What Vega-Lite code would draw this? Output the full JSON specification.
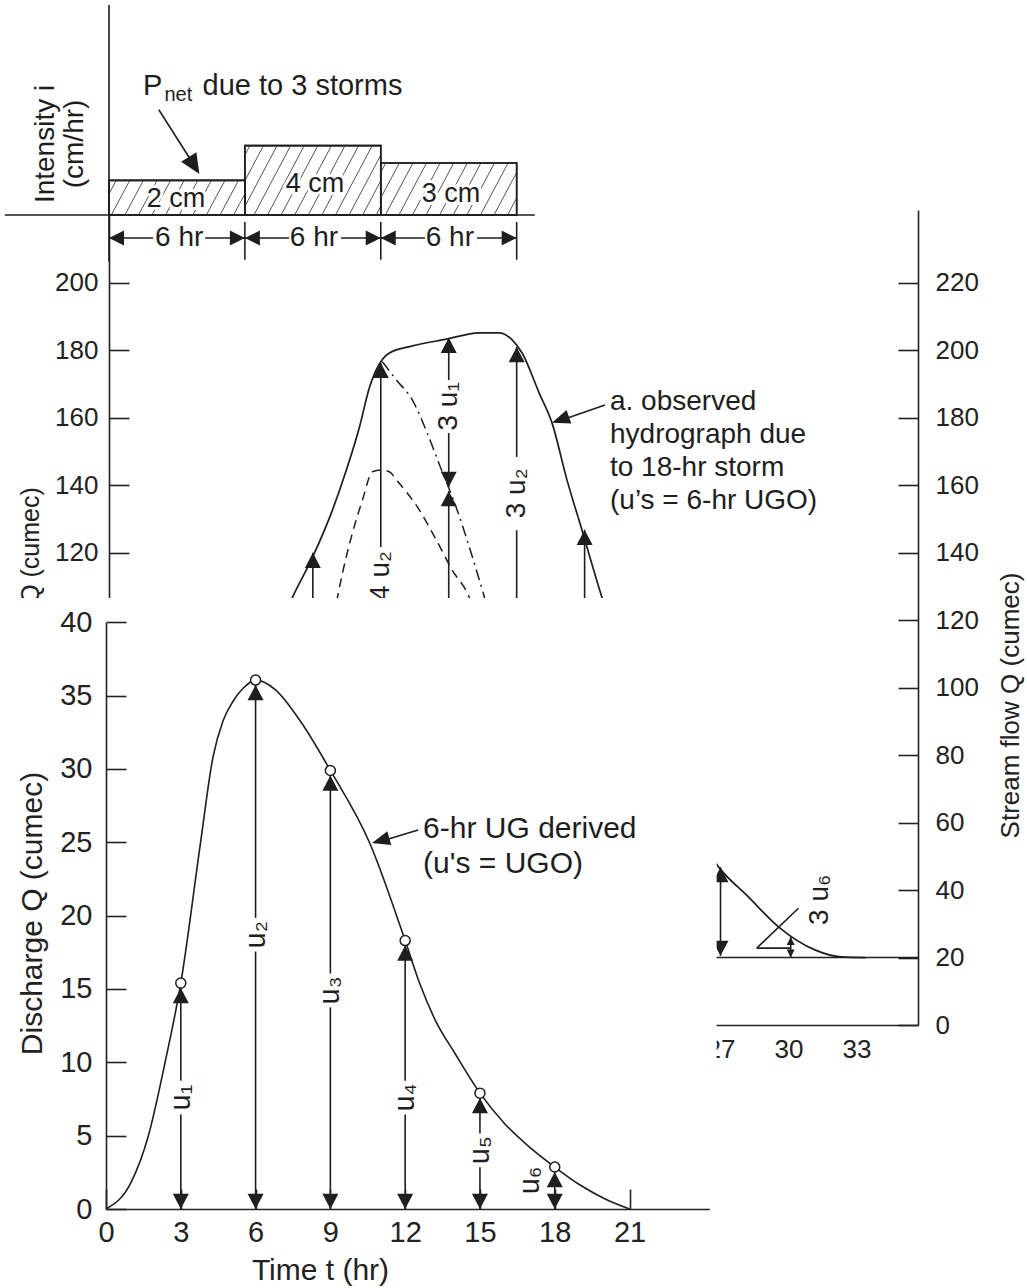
{
  "$schema": "https://vega.github.io/schema/vega-lite/v6.json",
  "width": 1027,
  "height": 1288,
  "autosize": {"type": "none"},
  "padding": 0,
  "background": "white",
  "config": {
    "view": {"stroke": null},
    "axis": {"grid": false, "labelFont": "Liberation Sans", "titleFont": "Liberation Sans", "labelColor": "#222222", "titleColor": "#222222", "domainColor": "#222222", "tickColor": "#222222", "domainWidth": 1.6, "tickWidth": 1.6, "titleFontWeight": "normal", "labelFlush": false, "labelOverlap": false},
    "text": {"font": "Liberation Sans", "color": "#1e1e1e"}
  },
  "datasets": {
    "hyBars": [{"t": 0, "t2": 6, "q": 0, "q2": 0.333}, {"t": 6, "t2": 12, "q": 0, "q2": 0.667}, {"t": 12, "t2": 18, "q": 0, "q2": 0.5}],
    "hyHatch": [
      {"t": 0, "q": 0.203, "t2": 0.32, "q2": 0.333}, {"t": 0.1, "q": 0, "t2": 0.92, "q2": 0.333}, {"t": 0.7, "q": 0, "t2": 1.52, "q2": 0.333}, {"t": 1.3, "q": 0, "t2": 2.12, "q2": 0.333}, {"t": 1.9, "q": 0, "t2": 2.72, "q2": 0.333}, {"t": 2.5, "q": 0, "t2": 3.32, "q2": 0.333}, {"t": 3.1, "q": 0, "t2": 3.92, "q2": 0.333}, {"t": 3.7, "q": 0, "t2": 4.52, "q2": 0.333}, {"t": 4.3, "q": 0, "t2": 5.12, "q2": 0.333}, {"t": 4.9, "q": 0, "t2": 5.72, "q2": 0.333}, {"t": 5.5, "q": 0, "t2": 6, "q2": 0.203},
      {"t": 6, "q": 0.576, "t2": 6.22, "q2": 0.667}, {"t": 6, "q": 0.329, "t2": 6.82, "q2": 0.667}, {"t": 6, "q": 0.082, "t2": 7.42, "q2": 0.667}, {"t": 6.4, "q": 0, "t2": 8.02, "q2": 0.667}, {"t": 7.0, "q": 0, "t2": 8.62, "q2": 0.667}, {"t": 7.6, "q": 0, "t2": 9.22, "q2": 0.667}, {"t": 8.2, "q": 0, "t2": 9.82, "q2": 0.667}, {"t": 8.8, "q": 0, "t2": 10.42, "q2": 0.667}, {"t": 9.4, "q": 0, "t2": 11.02, "q2": 0.667}, {"t": 10.0, "q": 0, "t2": 11.62, "q2": 0.667}, {"t": 10.6, "q": 0, "t2": 12, "q2": 0.576}, {"t": 11.2, "q": 0, "t2": 12, "q2": 0.329}, {"t": 11.8, "q": 0, "t2": 12, "q2": 0.082},
      {"t": 12, "q": 0.41, "t2": 12.22, "q2": 0.5}, {"t": 12, "q": 0.164, "t2": 12.82, "q2": 0.5}, {"t": 12.2, "q": 0, "t2": 13.42, "q2": 0.5}, {"t": 12.8, "q": 0, "t2": 14.02, "q2": 0.5}, {"t": 13.4, "q": 0, "t2": 14.62, "q2": 0.5}, {"t": 14.0, "q": 0, "t2": 15.22, "q2": 0.5}, {"t": 14.6, "q": 0, "t2": 15.82, "q2": 0.5}, {"t": 15.2, "q": 0, "t2": 16.42, "q2": 0.5}, {"t": 15.8, "q": 0, "t2": 17.02, "q2": 0.5}, {"t": 16.4, "q": 0, "t2": 17.62, "q2": 0.5}, {"t": 17.0, "q": 0, "t2": 18, "q2": 0.41}, {"t": 17.6, "q": 0, "t2": 18, "q2": 0.164}
    ],
    "hyLines": [
      {"t": 0, "t2": 0, "q": 2.02, "q2": -0.45},
      {"t": -4.6, "t2": 18.8, "q": 0, "q2": 0},
      {"t": 6, "t2": 6, "q": -0.067, "q2": -0.43},
      {"t": 12, "t2": 12, "q": -0.067, "q2": -0.43},
      {"t": 18, "t2": 18, "q": -0.067, "q2": -0.43},
      {"t": 0, "t2": 1.95, "q": -0.221, "q2": -0.221},
      {"t": 4.25, "t2": 6, "q": -0.221, "q2": -0.221},
      {"t": 6, "t2": 7.95, "q": -0.221, "q2": -0.221},
      {"t": 10.25, "t2": 12, "q": -0.221, "q2": -0.221},
      {"t": 12, "t2": 13.95, "q": -0.221, "q2": -0.221},
      {"t": 16.25, "t2": 18, "q": -0.221, "q2": -0.221},
      {"t": 2.2, "t2": 3.9, "q": 1.012, "q2": 0.43}
    ],
    "hyArrL": [{"t": 0, "q": -0.221}, {"t": 6, "q": -0.221}, {"t": 12, "q": -0.221}],
    "hyArrR": [{"t": 6, "q": -0.221}, {"t": 12, "q": -0.221}, {"t": 18, "q": -0.221}],
    "hyLabels": [{"t": 2.96, "q": 0.154, "label": "2 cm"}, {"t": 9.1, "q": 0.298, "label": "4 cm"}, {"t": 15.1, "q": 0.2, "label": "3 cm"}],
    "hyDims": [{"t": 3.1, "q": -0.221, "label": "6 hr"}, {"t": 9.05, "q": -0.221, "label": "6 hr"}, {"t": 15.05, "q": -0.221, "label": "6 hr"}],
    "hyTitle": [{"t": -2.8, "q": 0.683, "label": "Intensity i"}, {"t": -1.5, "q": 0.683, "label": "(cm/hr)"}],
    "hyP": [{"t": 1.5, "q": 1.158, "label": "P"}, {"t": 4.13, "q": 1.158, "label": "due to 3 storms"}],
    "hyNet": [{"t": 2.45, "q": 1.096, "label": "net"}],
    "hyPArrow": [{"t": 3.99, "q": 0.394}],
    "midBase": [{"t": 0, "t2": 35.72, "q": 20, "q2": 20}],
    "midObs": [
      {"t": 6, "q": 98}, {"t": 7, "q": 112}, {"t": 7.6, "q": 119}, {"t": 8.11, "q": 126.9}, {"t": 8.99, "q": 138.7}, {"t": 9.87, "q": 152.7}, {"t": 10.48, "q": 164.5}, {"t": 11.06, "q": 177.3}, {"t": 11.5, "q": 189}, {"t": 11.9, "q": 195.5}, {"t": 12.38, "q": 199.2}, {"t": 13.39, "q": 201.3}, {"t": 14.89, "q": 203.3}, {"t": 16.34, "q": 205.2}, {"t": 17.22, "q": 205.2}, {"t": 17.8, "q": 203.1}, {"t": 18.24, "q": 199.2}, {"t": 18.99, "q": 187.4}, {"t": 19.56, "q": 178.5}, {"t": 20.22, "q": 161.6}, {"t": 20.88, "q": 146.8}, {"t": 21.76, "q": 126.9}, {"t": 22.5, "q": 112}, {"t": 23, "q": 103}, {"t": 24, "q": 84}, {"t": 25, "q": 68}, {"t": 26, "q": 56}, {"t": 26.92, "q": 46.8}, {"t": 28.24, "q": 37.9}, {"t": 29.56, "q": 29.1}, {"t": 31.19, "q": 22.2}, {"t": 32.33, "q": 20.2}, {"t": 33.4, "q": 20}
    ],
    "midDashdot": [{"t": 12.07, "q": 196.6}, {"t": 12.69, "q": 191.2}, {"t": 13.39, "q": 185.3}, {"t": 14.05, "q": 175.5}, {"t": 14.63, "q": 165.4}, {"t": 15.37, "q": 152.7}, {"t": 15.81, "q": 143.8}, {"t": 16.52, "q": 128.1}, {"t": 17.2, "q": 112}, {"t": 18, "q": 95}],
    "midDashed": [{"t": 9.5, "q": 108}, {"t": 10.09, "q": 126.9}, {"t": 10.31, "q": 134}, {"t": 10.75, "q": 145.9}, {"t": 11.19, "q": 155.6}, {"t": 11.63, "q": 164}, {"t": 12.03, "q": 164.5}, {"t": 12.38, "q": 164}, {"t": 12.69, "q": 161.6}, {"t": 13.7, "q": 152.7}, {"t": 14.45, "q": 143.8}, {"t": 15.15, "q": 134.9}, {"t": 15.9, "q": 126.9}, {"t": 16.6, "q": 112}],
    "midSegs": [
      {"t": 9, "t2": 9, "q": 60, "q2": 140},
      {"t": 12, "t2": 12, "q": 141.7, "q2": 196.3},
      {"t": 12, "t2": 12, "q": 60, "q2": 124.5},
      {"t": 15, "t2": 15, "q": 191.2, "q2": 203.7},
      {"t": 15, "t2": 15, "q": 159.5, "q2": 175.5},
      {"t": 15, "t2": 15, "q": 60, "q2": 158.3},
      {"t": 18, "t2": 18, "q": 168.4, "q2": 201},
      {"t": 18, "t2": 18, "q": 60, "q2": 146.7},
      {"t": 21, "t2": 21, "q": 60, "q2": 146.8},
      {"t": 27, "t2": 27, "q": 20.5, "q2": 46.8},
      {"t": 30.1, "t2": 30.1, "q": 20, "q2": 26.1},
      {"t": 28.6, "t2": 30.44, "q": 22.8, "q2": 34.6},
      {"t": 28.6, "t2": 30.1, "q": 22.8, "q2": 22.8},
      {"t": 21.9, "t2": 19.8, "q": 183.8, "q2": 178.9}
    ],
    "midUp": [{"t": 9, "q": 140}, {"t": 12, "q": 196.3}, {"t": 15, "q": 203.7}, {"t": 15, "q": 158.3}, {"t": 18, "q": 201}, {"t": 21, "q": 146.8}, {"t": 27, "q": 46.8}],
    "midDown": [{"t": 15, "q": 159.5}, {"t": 27, "q": 20.5}],
    "midSmallUp": [{"t": 30.1, "q": 26.1}],
    "midSmallDown": [{"t": 30.1, "q": 20}],
    "midAnnArrow": [{"t": 19.56, "q": 178.5}],
    "midLabels": [{"t": 12, "q": 133.1, "label": "4 u₂"}, {"t": 15, "q": 183.4, "label": "3 u₁"}, {"t": 18, "q": 157.6, "label": "3 u₂"}, {"t": 31.4, "q": 37.1, "label": "3 u₆"}],
    "midAnn": [{"t": 22.12, "q": 182.3, "label": ["a. observed", "hydrograph due", "to 18-hr storm", "(u’s = 6-hr UGO)"]}],
    "midCover": [{"t": -5, "t2": 26.83, "q": 126.6, "q2": -80}],
    "botCurve": [{"t": 0, "q": 0}, {"t": 1, "q": 1.8}, {"t": 1.7, "q": 5}, {"t": 2.37, "q": 10}, {"t": 3, "q": 15.4}, {"t": 3.77, "q": 24.7}, {"t": 4.29, "q": 30.8}, {"t": 4.7, "q": 33.3}, {"t": 5.09, "q": 34.6}, {"t": 5.5, "q": 35.5}, {"t": 6, "q": 36.06}, {"t": 6.8, "q": 35.4}, {"t": 7.78, "q": 33.3}, {"t": 9, "q": 29.9}, {"t": 10.59, "q": 24.9}, {"t": 12, "q": 18.3}, {"t": 12.6, "q": 15.3}, {"t": 13.2, "q": 12.9}, {"t": 14, "q": 10.6}, {"t": 15, "q": 7.9}, {"t": 16, "q": 5.8}, {"t": 17, "q": 4.2}, {"t": 18, "q": 2.86}, {"t": 19, "q": 1.65}, {"t": 20, "q": 0.7}, {"t": 21, "q": 0}],
    "botCircles": [{"t": 3, "q": 15.4}, {"t": 6, "q": 36.06}, {"t": 9, "q": 29.9}, {"t": 12, "q": 18.3}, {"t": 15, "q": 7.9}, {"t": 18, "q": 2.86}],
    "botSegs": [
      {"t": 3, "t2": 3, "q": 0, "q2": 6.45}, {"t": 3, "t2": 3, "q": 8.75, "q2": 15.06},
      {"t": 6, "t2": 6, "q": 0, "q2": 17.55}, {"t": 6, "t2": 6, "q": 19.85, "q2": 35.72},
      {"t": 9, "t2": 9, "q": 0, "q2": 13.75}, {"t": 9, "t2": 9, "q": 16.05, "q2": 29.56},
      {"t": 12, "t2": 12, "q": 0, "q2": 6.45}, {"t": 12, "t2": 12, "q": 8.75, "q2": 17.96},
      {"t": 15, "t2": 15, "q": 0, "q2": 2.85}, {"t": 15, "t2": 15, "q": 5.15, "q2": 7.56},
      {"t": 18, "t2": 18, "q": 0, "q2": 2.52},
      {"t": 12.52, "t2": 10.9, "q": 25.84, "q2": 25.0}
    ],
    "botUp": [{"t": 3, "q": 15.06}, {"t": 6, "q": 35.72}, {"t": 9, "q": 29.56}, {"t": 12, "q": 17.96}, {"t": 15, "q": 7.56}, {"t": 18, "q": 2.52}],
    "botDown": [{"t": 3, "q": 0}, {"t": 6, "q": 0}, {"t": 9, "q": 0}, {"t": 12, "q": 0}, {"t": 15, "q": 0}, {"t": 18, "q": 0}],
    "botLabels": [{"t": 3, "q": 7.6, "label": "u₁"}, {"t": 6, "q": 18.7, "label": "u₂"}, {"t": 9, "q": 14.9, "label": "u₃"}, {"t": 12, "q": 7.6, "label": "u₄"}, {"t": 15, "q": 4.0, "label": "u₅"}, {"t": 17.0, "q": 1.95, "label": "u₆"}],
    "botAnn": [{"t": 12.72, "q": 25.3, "label": ["6-hr UG derived", "(u's = UGO)"]}],
    "botAnnArrow": [{"t": 10.67, "q": 24.95}]
  },
  "layer": [
    {
      "encoding": {
        "x": {"field": "t", "type": "quantitative", "scale": {"domain": [0, 35.72], "range": [109, 918], "nice": false, "zero": false}, "axis": null},
        "y": {"field": "q", "type": "quantitative", "scale": {"domain": [0, 2], "range": [215, 7], "nice": false, "zero": false}, "axis": null}
      },
      "layer": [
        {"data": {"name": "hyBars"}, "mark": {"type": "rect", "fill": "white", "stroke": "#1e1e1e", "strokeWidth": 1.6}, "encoding": {"x2": {"field": "t2"}, "y2": {"field": "q2"}}},
        {"data": {"name": "hyHatch"}, "mark": {"type": "rule", "stroke": "#555555", "strokeWidth": 1}, "encoding": {"x2": {"field": "t2"}, "y2": {"field": "q2"}}},
        {"data": {"name": "hyBars"}, "mark": {"type": "rect", "fillOpacity": 0, "stroke": "#1e1e1e", "strokeWidth": 1.6}, "encoding": {"x2": {"field": "t2"}, "y2": {"field": "q2"}}},
        {"data": {"name": "hyLines"}, "mark": {"type": "rule", "stroke": "#1e1e1e", "strokeWidth": 1.6}, "encoding": {"x2": {"field": "t2"}, "y2": {"field": "q2"}}},
        {"data": {"name": "hyArrL"}, "mark": {"type": "point", "shape": "M0,0L1,-0.5L1,0.5Z", "size": 900, "filled": true, "fill": "#1e1e1e", "strokeWidth": 0, "opacity": 1}},
        {"data": {"name": "hyArrR"}, "mark": {"type": "point", "shape": "M0,0L-1,-0.5L-1,0.5Z", "size": 900, "filled": true, "fill": "#1e1e1e", "strokeWidth": 0, "opacity": 1}},
        {"data": {"name": "hyPArrow"}, "mark": {"type": "point", "shape": "M0,0L-0.45,1L0.45,1Z", "size": 1600, "angle": 148, "filled": true, "fill": "#1e1e1e", "strokeWidth": 0, "opacity": 1}},
        {"data": {"name": "hyLabels"}, "mark": {"type": "text", "fontSize": 27, "align": "center", "baseline": "middle", "fill": "white", "stroke": "white", "strokeWidth": 6}, "encoding": {"text": {"field": "label"}}},
        {"data": {"name": "hyLabels"}, "mark": {"type": "text", "fontSize": 27, "align": "center", "baseline": "middle", "fill": "#1e1e1e"}, "encoding": {"text": {"field": "label"}}},
        {"data": {"name": "hyDims"}, "mark": {"type": "text", "fontSize": 28, "align": "center", "baseline": "middle", "fill": "#1e1e1e"}, "encoding": {"text": {"field": "label"}}},
        {"data": {"name": "hyTitle"}, "mark": {"type": "text", "fontSize": 28, "angle": 270, "align": "center", "baseline": "middle", "fill": "#1e1e1e"}, "encoding": {"text": {"field": "label"}}},
        {"data": {"name": "hyP"}, "mark": {"type": "text", "fontSize": 29, "align": "left", "baseline": "alphabetic", "fill": "#1e1e1e"}, "encoding": {"text": {"field": "label"}}},
        {"data": {"name": "hyNet"}, "mark": {"type": "text", "fontSize": 20, "align": "left", "baseline": "alphabetic", "fill": "#1e1e1e"}, "encoding": {"text": {"field": "label"}}}
      ]
    },
    {
      "encoding": {
        "x": {"field": "t", "type": "quantitative", "scale": {"domain": [0, 35.72], "range": [109, 918], "nice": false, "zero": false},
              "axis": {"orient": "bottom", "offset": -263, "values": [27, 30, 33], "ticks": false, "tickSize": 0, "labelPadding": 11, "labelFontSize": 26, "title": null, "zindex": 0}},
        "y": {"field": "q", "type": "quantitative", "scale": {"domain": [0, 241.6], "range": [1025, 210], "nice": false, "zero": false},
              "axis": {"orient": "right", "offset": -109, "values": [0, 20, 40, 60, 80, 100, 120, 140, 160, 180, 200, 220], "tickSize": -20, "labelPadding": 37, "labelFontSize": 26, "labelAlign": "left", "labelBaseline": "middle", "title": "Stream flow Q (cumec)", "titleFontSize": 26, "titleAngle": 270, "titleX": 92, "titleY": 705, "titleAlign": "center", "titleBaseline": "middle", "zindex": 0}}
      },
      "layer": [
        {"data": {"name": "midBase"}, "mark": {"type": "rule", "stroke": "#1e1e1e", "strokeWidth": 1.6}, "encoding": {"x2": {"field": "t2"}, "y2": {"field": "q2"}}},
        {"data": {"name": "midDashed"}, "mark": {"type": "line", "interpolate": "monotone", "stroke": "#1e1e1e", "strokeWidth": 1.5, "strokeDash": [9, 6]}},
        {"data": {"name": "midDashdot"}, "mark": {"type": "line", "interpolate": "monotone", "stroke": "#1e1e1e", "strokeWidth": 1.5, "strokeDash": [11, 5, 2, 5]}},
        {"data": {"name": "midObs"}, "mark": {"type": "line", "interpolate": "monotone", "stroke": "#1e1e1e", "strokeWidth": 1.7}},
        {"data": {"name": "midSegs"}, "mark": {"type": "rule", "stroke": "#1e1e1e", "strokeWidth": 1.6}, "encoding": {"x2": {"field": "t2"}, "y2": {"field": "q2"}}},
        {"data": {"name": "midUp"}, "mark": {"type": "point", "shape": "M0,0L-0.5,0.95L0.5,0.95Z", "size": 1024, "filled": true, "fill": "#1e1e1e", "strokeWidth": 0, "opacity": 1}},
        {"data": {"name": "midDown"}, "mark": {"type": "point", "shape": "M0,0L-0.5,-0.95L0.5,-0.95Z", "size": 1024, "filled": true, "fill": "#1e1e1e", "strokeWidth": 0, "opacity": 1}},
        {"data": {"name": "midSmallUp"}, "mark": {"type": "point", "shape": "M0,0L-0.5,1L0.5,1Z", "size": 256, "filled": true, "fill": "#1e1e1e", "strokeWidth": 0, "opacity": 1}},
        {"data": {"name": "midSmallDown"}, "mark": {"type": "point", "shape": "M0,0L-0.5,-1L0.5,-1Z", "size": 256, "filled": true, "fill": "#1e1e1e", "strokeWidth": 0, "opacity": 1}},
        {"data": {"name": "midAnnArrow"}, "mark": {"type": "point", "shape": "M0,0L-0.4,1L0.4,1Z", "size": 1296, "angle": 250.3, "filled": true, "fill": "#1e1e1e", "strokeWidth": 0, "opacity": 1}},
        {"data": {"name": "midLabels"}, "mark": {"type": "text", "fontSize": 28, "angle": 270, "align": "center", "baseline": "middle", "fill": "#1e1e1e"}, "encoding": {"text": {"field": "label"}}},
        {"data": {"name": "midAnn"}, "mark": {"type": "text", "fontSize": 28, "align": "left", "baseline": "alphabetic", "lineHeight": 33, "fill": "#1e1e1e"}, "encoding": {"text": {"field": "label"}}},
        {"data": {"name": "midCover"}, "mark": {"type": "rect", "fill": "white", "strokeWidth": 0}, "encoding": {"x2": {"field": "t2"}, "y2": {"field": "q2"}}}
      ]
    },
    {
      "data": {"values": [{"q": 140}]},
      "mark": {"type": "rule", "opacity": 0},
      "encoding": {
        "y": {"field": "q", "type": "quantitative", "scale": {"domain": [0, 241.6], "range": [1025, 210], "nice": false, "zero": false},
              "axis": {"orient": "left", "offset": -109, "values": [140, 160, 180, 200, 220], "labelExpr": "datum.value - 20", "tickSize": -20, "labelPadding": 31, "labelFontSize": 26, "labelAlign": "right", "labelBaseline": "middle", "title": "Q (cumec)", "titleFontSize": 25, "titleAngle": 270, "titleX": -79, "titleY": 545, "titleAlign": "center", "titleBaseline": "middle", "zindex": 0}}
      }
    },
    {
      "encoding": {
        "x": {"field": "t", "type": "quantitative", "scale": {"domain": [0, 24.2], "range": [106, 709.3], "nice": false, "zero": false},
              "axis": {"orient": "bottom", "offset": -79, "values": [0, 3, 6, 9, 12, 15, 18, 21], "tickSize": -20, "labelPadding": 29, "labelFontSize": 29, "labelBaseline": "top", "title": "Time t (hr)", "titleFontSize": 30, "titleX": 320, "titleY": 61, "titleAlign": "center", "titleBaseline": "middle", "zindex": 1}},
        "y": {"field": "q", "type": "quantitative", "scale": {"domain": [0, 40], "range": [1209, 622.3], "nice": false, "zero": false},
              "axis": {"orient": "left", "offset": -106, "values": [0, 5, 10, 15, 20, 25, 30, 35, 40], "tickSize": -20, "labelPadding": 34, "labelFontSize": 29, "labelAlign": "right", "labelBaseline": "middle", "title": "Discharge Q (cumec)", "titleFontSize": 30, "titleAngle": 270, "titleX": -74, "titleY": 913, "titleAlign": "center", "titleBaseline": "middle", "zindex": 1}}
      },
      "layer": [
        {"data": {"name": "botCurve"}, "mark": {"type": "line", "interpolate": "monotone", "stroke": "#1e1e1e", "strokeWidth": 1.6}},
        {"data": {"name": "botSegs"}, "mark": {"type": "rule", "stroke": "#1e1e1e", "strokeWidth": 1.6}, "encoding": {"x2": {"field": "t2"}, "y2": {"field": "q2"}}},
        {"data": {"name": "botUp"}, "mark": {"type": "point", "shape": "M0,0L-0.5,0.95L0.5,0.95Z", "size": 1024, "filled": true, "fill": "#1e1e1e", "strokeWidth": 0, "opacity": 1}},
        {"data": {"name": "botDown"}, "mark": {"type": "point", "shape": "M0,0L-0.5,-0.95L0.5,-0.95Z", "size": 1024, "filled": true, "fill": "#1e1e1e", "strokeWidth": 0, "opacity": 1}},
        {"data": {"name": "botAnnArrow"}, "mark": {"type": "point", "shape": "M0,0L-0.4,1L0.4,1Z", "size": 1296, "angle": 254.2, "filled": true, "fill": "#1e1e1e", "strokeWidth": 0, "opacity": 1}},
        {"data": {"name": "botCircles"}, "mark": {"type": "point", "shape": "circle", "size": 100, "filled": true, "fill": "white", "stroke": "#1e1e1e", "strokeWidth": 1.5, "opacity": 1}},
        {"data": {"name": "botLabels"}, "mark": {"type": "text", "fontSize": 29, "angle": 270, "align": "center", "baseline": "middle", "fill": "#1e1e1e"}, "encoding": {"text": {"field": "label"}}},
        {"data": {"name": "botAnn"}, "mark": {"type": "text", "fontSize": 30, "align": "left", "baseline": "alphabetic", "lineHeight": 35, "fill": "#1e1e1e"}, "encoding": {"text": {"field": "label"}}}
      ]
    }
  ],
  "resolve": {"scale": {"x": "independent", "y": "independent"}, "axis": {"x": "independent", "y": "independent"}}
}
